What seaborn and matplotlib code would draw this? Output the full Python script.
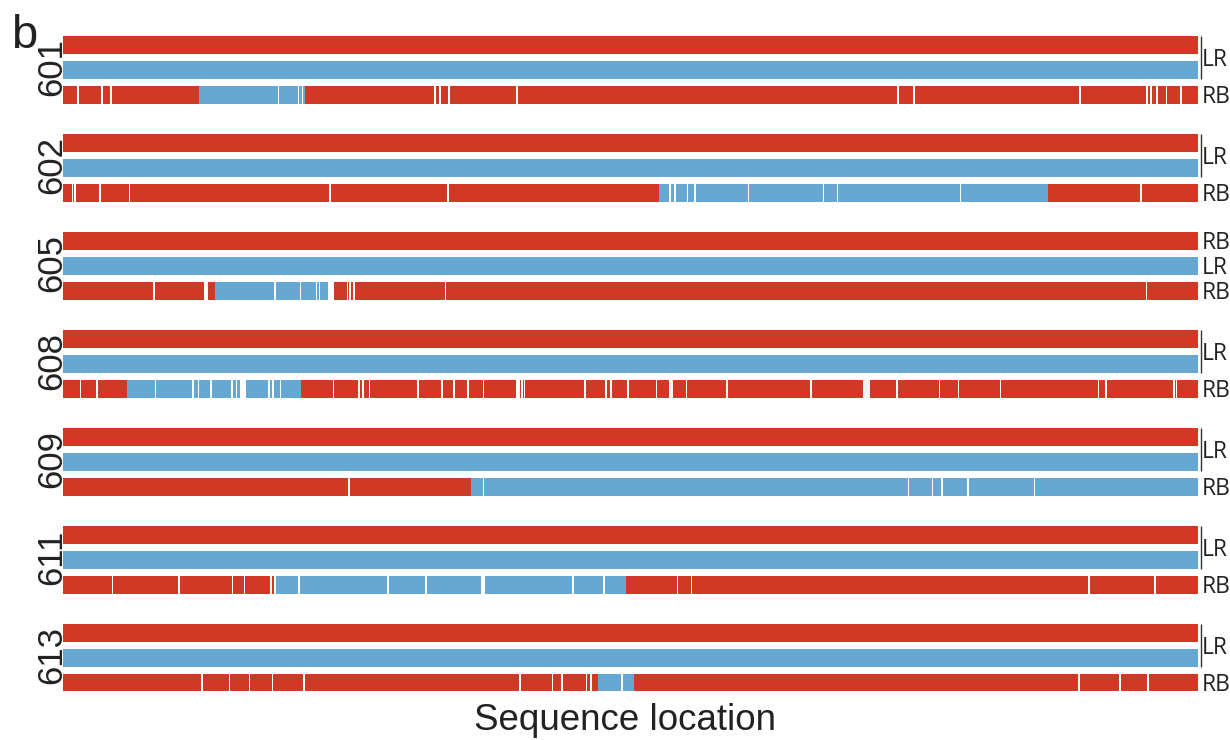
import matplotlib
matplotlib.use("Agg")
import matplotlib.pyplot as plt
import seaborn as sns
from matplotlib import font_manager

# ---------------- data ----------------
samples = ["601", "602", "605", "608", "609", "611", "613"]
seq_length = 1135

top_colors = ["R", "R", "R", "R", "R", "R", "R"]
mid_colors = ["B", "B", "B", "B", "B", "B", "B"]

labels_605 = ["RB", "LR", "RB"]
labels_default = ["LR", "RB"]

# bottom (RB) rows: segment starts + colours, and thin white break positions
rb_starts_601 = [0, 136, 242]
rb_colors_601 = ["R", "B", "R"]
rb_breaks_601 = [15, 39, 48, 215.5, 235.5, 239.5, 372, 377, 386, 454, 835, 851,
                 1017, 1084, 1088, 1094, 1103.5, 1118]

rb_starts_602 = [0, 596.4, 605.5, 608, 984.7]
rb_colors_602 = ["R", "B", "W", "B", "R"]
rb_breaks_602 = [9.4, 12, 37, 66.3, 267.2, 385, 612.2, 624.5, 632, 685.4, 760.5,
                 774.4, 897.3, 1078]

rb_starts_605 = [0, 151.7, 265.2, 271.1]
rb_colors_605 = ["R", "B", "W", "R"]
rb_breaks_605 = [91.2, 141.8, 143.8, 212.2, 237.5, 253.3, 256.5, 284.3, 287, 291,
                 382.6, 1083.6]

rb_starts_608 = [0, 63.5, 176.6, 183, 237.5, 605.5, 610.3, 800, 806.8]
rb_colors_608 = ["R", "B", "W", "B", "R", "N", "R", "N", "R"]
rb_breaks_608 = [17.3, 33.9, 92.4, 130, 135.5, 147.8, 169.1, 173.5, 205.9, 209.8,
                 217.7, 270.3, 296, 300, 306.7, 355, 379, 391, 404.8, 420.6, 453.8,
                 456.2, 459, 461.7, 522.2, 542.8, 547.8, 564.8, 593.7, 623.3, 664,
                 747.9, 834, 876.4, 895.4, 937.3, 1035.3, 1043.2, 1111.2, 1113.6]

rb_starts_609 = [0, 407.8]
rb_colors_609 = ["R", "B"]
rb_breaks_609 = [286.2, 420.3, 845.5, 869.3, 878.8, 904.9, 971.3]

rb_starts_611 = [0, 207, 208.8, 210.6, 213.4, 562.8]
rb_colors_611 = ["R", "W", "R", "W", "B", "R"]
rb_breaks_611 = [49.5, 116, 169.3, 181.3, 235.9, 325, 363, 419.1, 421, 510, 541.2,
                 614.7, 628.5, 1026, 1092]

rb_starts_613 = [0, 535.3, 571]
rb_colors_613 = ["R", "B", "R"]
rb_breaks_613 = [139, 166.6, 186.3, 209.3, 241, 457.2, 489.3, 499, 523.3, 527.9,
                 559.1, 1016, 1057, 1085]

rb_rows = {
    "601": (rb_starts_601, rb_colors_601, rb_breaks_601),
    "602": (rb_starts_602, rb_colors_602, rb_breaks_602),
    "605": (rb_starts_605, rb_colors_605, rb_breaks_605),
    "608": (rb_starts_608, rb_colors_608, rb_breaks_608),
    "609": (rb_starts_609, rb_colors_609, rb_breaks_609),
    "611": (rb_starts_611, rb_colors_611, rb_breaks_611),
    "613": (rb_starts_613, rb_colors_613, rb_breaks_613),
}

# ---------------- style ----------------
RED = "#CF3926"
BLUE = "#66A8D1"
palette = {"R": RED, "B": BLUE, "W": "#FFFFFF", "N": "#F3F3F3"}

sns.set_theme(style="white")
names = {f.name for f in font_manager.fontManager.ttflist}
num_font = "Liberation Sans Narrow" if "Liberation Sans Narrow" in names else "Liberation Sans"
main_font = "Liberation Sans"
side_font = "Open Sans"
plt.rcParams["font.family"] = [main_font, "DejaVu Sans"]

W, H = 1230, 740
fig = plt.figure(figsize=(W / 100, H / 100), dpi=100)
ax_left, ax_right, ax_top, ax_bottom = 63, 1198, 36, 691
ax = fig.add_axes([ax_left / W, 1 - ax_bottom / H, (ax_right - ax_left) / W,
                   (ax_bottom - ax_top) / H])
ax.set_xlim(0, seq_length)
ax.set_ylim(ax_bottom - ax_top, 0)

group_step = 98
row_step = 25
bar_h = 18
brk_w = 1.5
side_fs = 16.5
side_off = 8.0

for i, s in enumerate(samples):
    y0 = i * group_step + bar_h / 2
    ys = [y0, y0 + row_step, y0 + 2 * row_step]
    ax.barh(ys[0], seq_length, left=0, height=bar_h, color=palette[top_colors[i]], linewidth=0)
    ax.barh(ys[1], seq_length, left=0, height=bar_h, color=palette[mid_colors[i]], linewidth=0)
    starts, cols, breaks = rb_rows[s]
    ends = starts[1:] + [seq_length]
    for st, en, c in zip(starts, ends, cols):
        ax.barh(ys[2], en - st, left=st, height=bar_h, color=palette[c], linewidth=0)
    for b in breaks:
        ax.barh(ys[2], brk_w, left=b - brk_w / 2, height=bar_h, color="white", linewidth=0)

    # left sample label
    ax.text(-1.5, ys[1] - 2.5, s, rotation=90, rotation_mode="anchor", ha="center",
            va="baseline", fontsize=25, family=[num_font, "DejaVu Sans"], color="#222222")

    # right labels
    xr = seq_length + 3.5
    if s == "605":
        for yy, lab in zip(ys, labels_605):
            ax.text(xr, yy + side_off, lab, ha="left", va="baseline", fontsize=side_fs,
                    family=[side_font, "DejaVu Sans"], color="#222222", clip_on=False)
    else:
        ax.plot([seq_length + 2.5, seq_length + 2.5], [ys[0] - bar_h / 2, ys[1] + bar_h / 2],
                color="#333333", lw=1.0, clip_on=False, solid_capstyle="butt")
        ax.text(xr, (ys[0] + ys[1]) / 2 + side_off, labels_default[0], ha="left",
                va="baseline", fontsize=side_fs, family=[side_font, "DejaVu Sans"],
                color="#222222", clip_on=False)
        ax.text(xr, ys[2] + side_off, labels_default[1], ha="left", va="baseline",
                fontsize=side_fs, family=[side_font, "DejaVu Sans"], color="#222222",
                clip_on=False)

for sp in ax.spines.values():
    sp.set_visible(False)
ax.set_xticks([])
ax.set_yticks([])

ax.set_xlabel("Sequence location", fontsize=26.5, color="#222222")
ax.xaxis.label.set_va("baseline")
ax.xaxis.set_label_coords((624.5 - ax_left) / (ax_right - ax_left),
                          -(730 - ax_bottom) / (ax_bottom - ax_top))

fig.text(11 / W, 1 - 48.5 / H, "b", ha="left", va="baseline", fontsize=34, color="#222222")

fig.savefig("out.png", dpi=100, facecolor="white")
